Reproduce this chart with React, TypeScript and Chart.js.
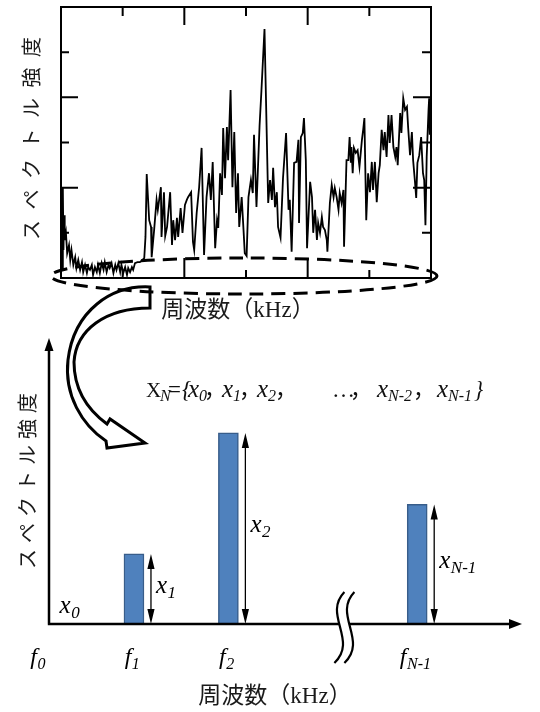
import React, { useEffect, useRef } from 'react';
import { Chart, registerables } from 'chart.js';

Chart.register(...registerables);

// ---------- top panel: measured spectrum ----------
const SPEC_FREQ = [
  0.02, 0.03, 0.04, 0.05, 0.06, 0.08, 0.10, 0.13, 0.15, 0.17,
  0.20, 0.23, 0.25, 0.28, 0.31, 0.34, 0.36, 0.39, 0.42, 0.44,
  0.47, 0.50, 0.52, 0.55, 0.58, 0.60, 0.63, 0.66, 0.69, 0.71,
  0.74, 0.77, 0.79, 0.82, 0.85, 0.88, 0.90, 0.93, 0.96, 0.98,
  1.01, 1.04, 1.07, 1.09, 1.12, 1.15, 1.17, 1.20, 1.24, 1.28,
  1.32, 1.35, 1.37, 1.39, 1.43, 1.46, 1.47, 1.51, 1.55, 1.57,
  1.62, 1.63, 1.67, 1.69, 1.72, 1.77, 1.80, 1.82, 1.85, 1.88,
  1.90, 1.94, 1.97, 2.01, 2.04, 2.06, 2.11, 2.14, 2.16, 2.20,
  2.24, 2.28, 2.32, 2.36, 2.40, 2.43, 2.46, 2.50, 2.53, 2.55,
  2.58, 2.61, 2.63, 2.66, 2.69, 2.71, 2.75, 2.78, 2.81, 2.84,
  2.87, 2.89, 2.93, 2.96, 2.98, 3.01, 3.04, 3.08, 3.11, 3.13,
  3.17, 3.22, 3.25, 3.30, 3.36, 3.39, 3.42, 3.44, 3.47, 3.50,
  3.52, 3.56, 3.60, 3.65, 3.69, 3.71, 3.74, 3.78, 3.82, 3.85,
  3.86, 3.89, 3.92, 3.94, 3.97, 3.99, 4.04, 4.07, 4.09, 4.12,
  4.15, 4.17, 4.20, 4.23, 4.25, 4.28, 4.31, 4.32, 4.36, 4.39,
  4.42, 4.44, 4.47, 4.50, 4.52, 4.55, 4.58, 4.59, 4.63, 4.66,
  4.68, 4.70, 4.71, 4.73, 4.75, 4.78, 4.81, 4.84, 4.88, 4.90,
  4.92, 4.95, 4.98, 5.01, 5.04, 5.06, 5.09, 5.12, 5.15, 5.17,
  5.20, 5.23, 5.25, 5.28, 5.31, 5.33, 5.36, 5.39, 5.42, 5.44,
  5.46, 5.50, 5.52, 5.55, 5.58, 5.61, 5.63, 5.66, 5.69, 5.71,
  5.74, 5.76, 5.78, 5.81, 5.84, 5.87, 5.89, 5.91, 5.93, 5.96,
  5.97, 5.98, 6.00,
];

const SPEC_INT = [
  0.18, 1.99, 0.62, 1.39, 0.84, 1.00, 0.55, 0.73, 0.40, 0.62,
  0.29, 0.46, 0.22, 0.40, 0.18, 0.35, 0.13, 0.29, 0.11, 0.24,
  0.18, 0.29, 0.07, 0.24, 0.13, 0.29, 0.11, 0.33, 0.18, 0.35,
  0.13, 0.29, 0.22, 0.33, 0.11, 0.29, 0.18, 0.33, 0.13, 0.29,
  0.11, 0.24, 0.07, 0.22, 0.13, 0.24, 0.18, 0.33, 0.35, 0.35,
  0.40, 0.44, 0.91, 2.30, 1.28, 1.13, 0.46, 1.06, 1.73, 1.51,
  2.01, 0.91, 1.90, 0.93, 1.13, 1.90, 0.73, 1.28, 0.84, 1.33,
  0.91, 1.55, 1.00, 1.62, 1.73, 1.79, 1.90, 0.80, 0.62, 1.44,
  2.01, 2.88, 0.51, 1.79, 2.32, 1.73, 2.57, 0.66, 1.28, 1.11,
  2.32, 1.84, 3.32, 2.21, 3.34, 2.61, 4.16, 2.01, 3.23, 1.44,
  2.32, 1.13, 1.79, 1.06, 0.55, 0.49, 1.79, 2.17, 1.88, 3.17,
  1.57, 3.37, 4.14, 5.51, 1.66, 2.17, 1.73, 2.44, 1.57, 1.90,
  1.13, 0.89, 2.21, 3.21, 1.51, 1.73, 0.58, 2.55, 2.57, 3.06,
  1.22, 3.12, 3.21, 3.54, 2.61, 0.66, 2.13, 1.79, 1.00, 1.51,
  0.84, 1.22, 1.00, 1.35, 1.13, 1.06, 0.84, 0.58, 1.66, 2.06,
  1.79, 1.99, 1.79, 1.51, 1.88, 1.66, 1.95, 0.69, 2.61, 2.61,
  3.12, 2.55, 2.90, 2.32, 2.88, 2.77, 2.83, 2.46, 3.06, 3.28,
  3.54, 1.28, 2.32, 1.90, 2.57, 1.95, 2.57, 1.68, 2.32, 2.50,
  3.28, 2.83, 3.23, 2.68, 3.61, 2.99, 3.61, 2.90, 2.68, 2.90,
  2.50, 3.65, 3.21, 3.98, 3.72, 3.79, 3.32, 2.72, 3.23, 2.61,
  2.13, 1.77, 2.55, 2.72, 3.12, 2.32, 2.17, 1.17, 2.68, 3.72,
  3.98, 3.17, 3.94,
];

const SPEC_X_TICKS = [1, 2, 3, 4, 5];
const SPEC_Y_TICKS = [1, 2, 3, 4, 5];

// ---------- bottom panel: discrete spectrum ----------
const BIN_POS = [0, 1, 2, 4];
const BIN_AMP = [0, 2.45, 6.68, 4.18];
const BIN_FREQ_LABELS: [string, string][] = [['f', '0'], ['f', '1'], ['f', '2'], ['f', 'N-1']];
const BIN_AMP_LABELS: [string, string][] = [['x', '0'], ['x', '1'], ['x', '2'], ['x', 'N-1']];
const BREAK_POS = 3.25;

const TITLE_X = '周波数（kHz）';
const TITLE_Y = 'スペクトル強度';

const SERIF = '"Liberation Serif", "Times New Roman", serif';
const JP = '"Liberation Serif", "Noto Sans CJK JP", sans-serif';
const JPS = '"Noto Sans CJK JP", sans-serif';

function drawVerticalTitle(ctx: CanvasRenderingContext2D, text: string, cx: number, cy: number, spacing: number) {
  ctx.save();
  ctx.translate(cx, cy);
  ctx.rotate(-Math.PI / 2);
  ctx.font = `20px ${JPS}`;
  (ctx as any).letterSpacing = `${spacing}px`;
  ctx.fillStyle = '#1a1a1a';
  ctx.textAlign = 'center';
  ctx.textBaseline = 'middle';
  ctx.fillText(text, spacing / 2, 0);
  ctx.restore();
}

function drawSub(ctx: CanvasRenderingContext2D, base: string, sub: string, x: number, y: number, size: number, center: boolean) {
  const bf = `italic ${size}px ${SERIF}`;
  const sf = `italic ${Math.round(size * 0.66)}px ${SERIF}`;
  ctx.font = bf;
  const bw = ctx.measureText(base).width;
  ctx.font = sf;
  const sw = ctx.measureText(sub).width;
  const left = center ? x - (bw + sw) / 2 : x;
  ctx.textAlign = 'left';
  ctx.textBaseline = 'alphabetic';
  ctx.font = bf;
  ctx.fillText(base, left, y);
  ctx.font = sf;
  ctx.fillText(sub, left + bw + 0.5, y + size * 0.2);
}

const topDeco = {
  id: 'topDeco',
  afterDraw(chart: any) {
    const ctx: CanvasRenderingContext2D = chart.ctx;
    const ca = chart.chartArea;
    const xs = chart.scales.x;
    const ys = chart.scales.y;
    ctx.save();
    ctx.strokeStyle = '#000';
    ctx.lineWidth = 2;
    ctx.strokeRect(ca.left, ca.top, ca.right - ca.left, ca.bottom - ca.top);
    ctx.beginPath();
    for (const v of SPEC_X_TICKS) {
      const px = xs.getPixelForValue(v);
      const long = v % 2 === 0;
      ctx.moveTo(px, ca.top);
      ctx.lineTo(px, ca.top + (long ? 18 : 9));
      ctx.moveTo(px, ca.bottom);
      ctx.lineTo(px, ca.bottom - (long ? 20 : 8));
    }
    for (const v of SPEC_Y_TICKS) {
      const py = ys.getPixelForValue(v);
      const long = v % 2 === 0;
      ctx.moveTo(ca.left, py);
      ctx.lineTo(ca.left + (long ? 17 : 8), py);
      ctx.moveTo(ca.right, py);
      ctx.lineTo(ca.right - (long ? 18 : 9), py);
    }
    ctx.stroke();

    // dashed ellipse around the low band
    ctx.setLineDash([14, 8]);
    ctx.lineWidth = 3;
    ctx.beginPath();
    ctx.ellipse((ca.left + ca.right) / 2 - 2, ca.bottom - 2, (ca.right - ca.left) / 2 + 8, 18, 0, 0, Math.PI * 2);
    ctx.stroke();
    ctx.setLineDash([]);

    // titles
    ctx.fillStyle = '#1a1a1a';
    ctx.font = `23px ${JP}`;
    ctx.textAlign = 'center';
    ctx.textBaseline = 'middle';
    ctx.fillText(TITLE_X, 238, ca.bottom + 33);
    drawVerticalTitle(ctx, TITLE_Y, 31, (ca.top + ca.bottom) / 2 - 4, 10.5);
    ctx.restore();
  },
};

const bottomDeco = {
  id: 'bottomDeco',
  afterDraw(chart: any) {
    const ctx: CanvasRenderingContext2D = chart.ctx;
    const ca = chart.chartArea;
    const xs = chart.scales.x;
    const ys = chart.scales.y;
    ctx.save();

    // hollow curved arrow
    ctx.beginPath();
    ctx.moveTo(150, 287);
    ctx.bezierCurveTo(112, 285, 74, 310, 68, 360);
    ctx.bezierCurveTo(64, 395, 82, 425, 106, 441);
    ctx.lineTo(107, 448);
    ctx.lineTo(145, 443);
    ctx.lineTo(110, 419);
    ctx.lineTo(107, 424);
    ctx.bezierCurveTo(88, 410, 74, 390, 74, 362);
    ctx.bezierCurveTo(76, 330, 105, 308, 150, 308);
    ctx.closePath();
    ctx.fillStyle = '#fff';
    ctx.fill();
    ctx.strokeStyle = '#000';
    ctx.lineWidth = 3;
    ctx.lineJoin = 'miter';
    ctx.stroke();

    // axes with arrow heads
    ctx.fillStyle = '#000';
    ctx.lineWidth = 2.5;
    ctx.beginPath();
    ctx.moveTo(ca.left, ca.bottom);
    ctx.lineTo(ca.left, ca.top + 10);
    ctx.moveTo(ca.left - 1.2, ca.bottom);
    ctx.lineTo(ca.right - 10, ca.bottom);
    ctx.stroke();
    ctx.beginPath();
    ctx.moveTo(ca.left, ca.top);
    ctx.lineTo(ca.left - 4.5, ca.top + 13);
    ctx.lineTo(ca.left + 4.5, ca.top + 13);
    ctx.closePath();
    ctx.fill();
    ctx.beginPath();
    ctx.moveTo(ca.right, ca.bottom);
    ctx.lineTo(ca.right - 13, ca.bottom - 5);
    ctx.lineTo(ca.right - 13, ca.bottom + 5);
    ctx.closePath();
    ctx.fill();

    // axis break
    const bx = xs.getPixelForValue(BREAK_POS);
    const y0 = ca.bottom - 32;
    const y1 = ca.bottom + 39;
    const curve = (dx: number) => {
      ctx.moveTo(bx - 2 + dx, y0);
      ctx.bezierCurveTo(bx - 24 + dx, y0 + 23, bx + 12 + dx, y0 + 48, bx - 12 + dx, y1);
    };
    ctx.beginPath();
    curve(0);
    ctx.lineTo(bx - 2, y1);
    ctx.bezierCurveTo(bx + 22, y0 + 48, bx - 14, y0 + 23, bx + 8, y0);
    ctx.closePath();
    ctx.fillStyle = '#fff';
    ctx.fill();
    ctx.beginPath();
    curve(0);
    curve(10);
    ctx.lineWidth = 2.2;
    ctx.stroke();

    // double-headed arrows and amplitude labels
    ctx.fillStyle = '#000';
    ctx.strokeStyle = '#000';
    const base = ys.getPixelForValue(0);
    BIN_POS.forEach((p, i) => {
      const amp = BIN_AMP[i];
      const cx = xs.getPixelForValue(p);
      if (amp > 0) {
        const ax = cx + 17;
        const yt = ys.getPixelForValue(amp);
        const h = 15;
        const w = 3.6;
        ctx.lineWidth = 1.3;
        ctx.beginPath();
        ctx.moveTo(ax, yt + h - 2);
        ctx.lineTo(ax, base - h + 2);
        ctx.stroke();
        ctx.beginPath();
        ctx.moveTo(ax, yt);
        ctx.lineTo(ax - w, yt + h);
        ctx.lineTo(ax + w, yt + h);
        ctx.closePath();
        ctx.moveTo(ax, base);
        ctx.lineTo(ax - w, base - h);
        ctx.lineTo(ax + w, base - h);
        ctx.closePath();
        ctx.fill();
        drawSub(ctx, BIN_AMP_LABELS[i][0], BIN_AMP_LABELS[i][1], ax + 5, (yt + base) / 2 + 4, 25, false);
      } else {
        drawSub(ctx, BIN_AMP_LABELS[i][0], BIN_AMP_LABELS[i][1], cx + 20, base - 11, 25, false);
      }
      drawSub(ctx, BIN_FREQ_LABELS[i][0], BIN_FREQ_LABELS[i][1], cx - 2, base + 40, 24, true);
    });

    // equation
    const Y = 397;
    const tokens: [string, number, string, number][] = [
      ['X', 146, `21px ${SERIF}`, 0],
      ['N', 160, `italic 16px ${SERIF}`, 4],
      ['=', 168, `23px ${SERIF}`, 0],
      ['{', 182, `italic 23px ${SERIF}`, 0],
      ['x', 188, `italic 25px ${SERIF}`, 0],
      ['0', 199, `italic 16px ${SERIF}`, 4],
      ['，', 204, `22px ${JPS}`, 0],
      ['x', 222, `italic 25px ${SERIF}`, 0],
      ['1', 233, `italic 16px ${SERIF}`, 4],
      ['，', 239, `22px ${JPS}`, 0],
      ['x', 257, `italic 25px ${SERIF}`, 0],
      ['2', 268, `italic 16px ${SERIF}`, 4],
      ['，', 275, `22px ${JPS}`, 0],
      ['…', 332, `23px ${SERIF}`, 0],
      ['，', 350, `22px ${JPS}`, 0],
      ['x', 377, `italic 25px ${SERIF}`, 0],
      ['N-2', 388, `italic 16px ${SERIF}`, 4],
      ['，', 413, `22px ${JPS}`, 0],
      ['x', 437, `italic 25px ${SERIF}`, 0],
      ['N-1', 448, `italic 16px ${SERIF}`, 4],
      ['}', 474, `italic 23px ${SERIF}`, 0],
    ];
    ctx.textAlign = 'left';
    ctx.textBaseline = 'alphabetic';
    ctx.fillStyle = '#111';
    for (const [t, x, f, dy] of tokens) {
      ctx.font = f;
      ctx.fillText(t, x, Y + dy);
    }

    // titles
    ctx.fillStyle = '#1a1a1a';
    ctx.font = `23px ${JP}`;
    ctx.textAlign = 'center';
    ctx.textBaseline = 'middle';
    ctx.fillText(TITLE_X, 275, ca.bottom + 73);
    drawVerticalTitle(ctx, TITLE_Y, 27, 481, 6);
    ctx.restore();
  },
};

export default function App() {
  const topRef = useRef<HTMLCanvasElement>(null);
  const botRef = useRef<HTMLCanvasElement>(null);

  useEffect(() => {
    const bottom = new Chart(botRef.current as HTMLCanvasElement, {
      type: 'bar',
      data: {
        datasets: [
          {
            data: BIN_POS.map((p, i) => ({ x: p, y: BIN_AMP[i] })).filter((d) => d.y > 0),
            backgroundColor: '#4F81BD',
            borderColor: '#385D8A',
            borderWidth: 1.5,
            barThickness: 20,
          } as any,
        ],
      },
      options: {
        responsive: false,
        devicePixelRatio: 1,
        animation: false,
        events: [],
        layout: { padding: { left: 49, right: 18, top: 338, bottom: 88 } },
        plugins: { legend: { display: false }, tooltip: { enabled: false } },
        scales: {
          x: { type: 'linear', min: 0.1, max: 5.11, offset: false, display: false },
          y: { type: 'linear', min: 0, max: 10, display: false },
        },
      },
      plugins: [bottomDeco],
    });

    const top = new Chart(topRef.current as HTMLCanvasElement, {
      type: 'line',
      data: {
        datasets: [
          {
            data: SPEC_FREQ.map((f, i) => ({ x: f, y: SPEC_INT[i] })),
            borderColor: '#000',
            borderWidth: 1.8,
            pointRadius: 0,
            tension: 0,
            fill: false,
          },
        ],
      },
      options: {
        responsive: false,
        devicePixelRatio: 1,
        animation: false,
        events: [],
        layout: { padding: { left: 61, right: 109, top: 7, bottom: 62 } },
        plugins: { legend: { display: false }, tooltip: { enabled: false } },
        scales: {
          x: { type: 'linear', min: 0, max: 6, display: false },
          y: { type: 'linear', min: 0, max: 6, display: false },
        },
      },
      plugins: [topDeco],
    });

    return () => {
      top.destroy();
      bottom.destroy();
    };
  }, []);

  return (
    <div style={{ position: 'absolute', left: 0, top: 0, width: 540, height: 712, background: '#fff' }}>
      <canvas ref={botRef} width={540} height={712} style={{ position: 'absolute', left: 0, top: 0 }} />
      <canvas ref={topRef} width={540} height={340} style={{ position: 'absolute', left: 0, top: 0 }} />
    </div>
  );
}
